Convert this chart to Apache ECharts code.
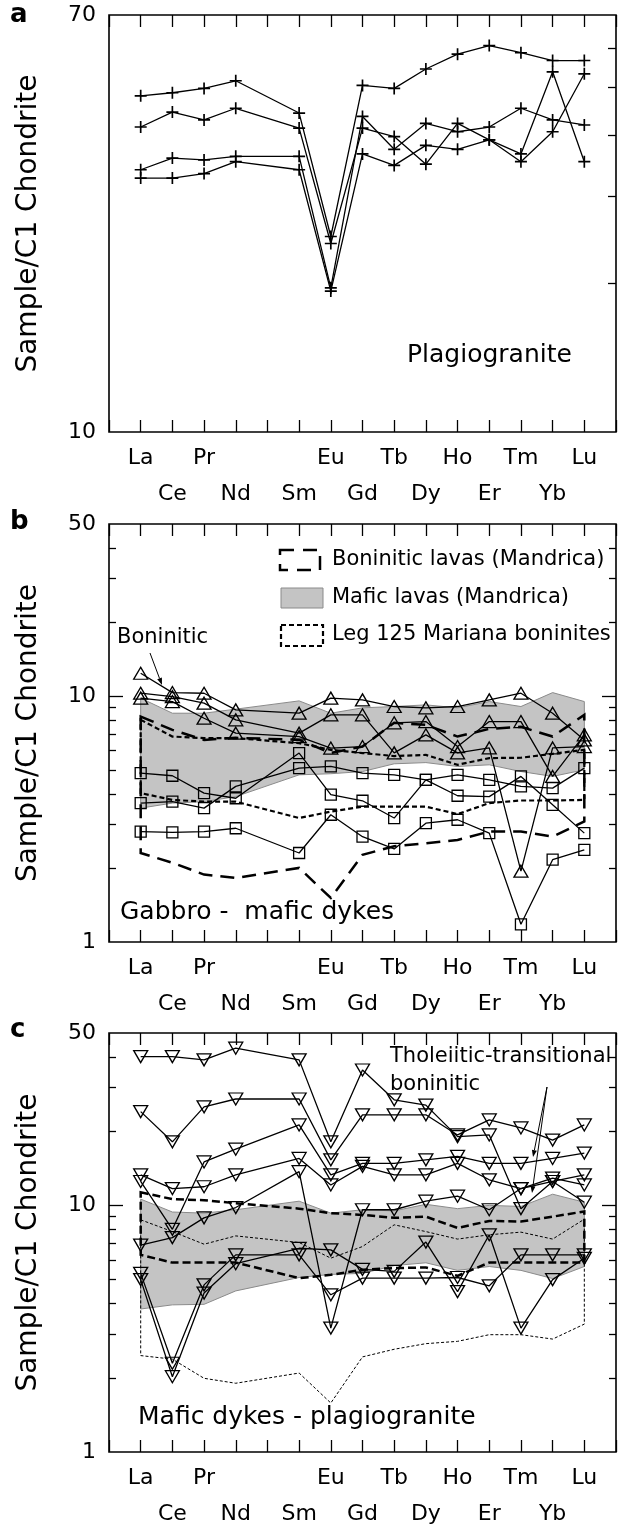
<!DOCTYPE html>
<html>
<head>
<meta charset="utf-8">
<title>REE patterns</title>
<script src="https://cdn.jsdelivr.net/npm/echarts@6.0.0/dist/echarts.min.js"></script>
<style>
  html, body { margin: 0; padding: 0; background: #fff; }
  #chart { width: 618px; height: 1530px; }
</style>
</head>
<body>
<div id="chart"></div>
<script>
// REE order; Pm has no data but keeps its tick
const ree = ['La', 'Ce', 'Pr', 'Nd', 'Pm', 'Sm', 'Eu', 'Gd', 'Tb', 'Dy', 'Ho', 'Er', 'Tm', 'Yb', 'Lu'];
const reeLabels = ['La', 'Ce', 'Pr', 'Nd', '', 'Sm', 'Eu', 'Gd', 'Tb', 'Dy', 'Ho', 'Er', 'Tm', 'Yb', 'Lu'];

// y ticks / labels
const ticksA = [20, 30, 40, 50, 60];
const labelsA = [10, 70];
const ticksBC = [2, 3, 4, 5, 6, 7, 8, 9, 20, 30, 40];
const majorBC = [10];
const labelsBC = [1, 10, 50];

// a - plagiogranite
const plagA1 = [48.0, 48.7, 49.7, 51.5, null, 44.3, 24.9, 50.4, 49.7, 54.4, 58.3, 60.7, 58.7, 56.6, 56.6];
const plagA2 = [41.5, 44.5, 42.9, 45.3, null, 41.3, 24.1, 41.3, 39.7, 34.9, 42.2, 39.1, 36.6, 53.7, 35.3];
const plagA3 = [34.0, 35.9, 35.6, 36.2, null, 36.2, 19.6, 43.6, 37.4, 42.2, 40.6, 41.5, 45.3, 42.9, 41.9];
const plagA4 = [32.7, 32.7, 33.4, 35.3, null, 34.0, 19.3, 36.6, 34.7, 38.1, 37.4, 39.1, 35.3, 40.6, 53.2];

// b - gabbro / mafic dykes
const mafLavUpB = [9.80, 8.51, 8.51, 8.84, null, 9.55, 8.51, 8.95, 9.06, 9.20, 8.95, 9.49, 9.06, 10.32, 9.49];
const mafLavLoB = [3.50, 3.67, 3.72, 3.90, null, 4.78, 4.83, 4.93, 5.30, 5.36, 5.17, 5.25, 4.93, 4.71, 5.01];
const bonLavUpB = [8.25, 7.28, 6.63, 6.76, null, 6.63, 5.87, 6.23, 7.78, 7.63, 6.84, 7.35, 7.49, 6.84, 8.38];
const bonLavLoB = [2.30, 2.10, 1.88, 1.82, null, 2.00, 1.51, 2.26, 2.45, 2.52, 2.60, 2.81, 2.81, 2.68, 3.09];
const legUpB = [8.00, 6.84, 6.74, 6.74, null, 6.43, 6.04, 5.86, 5.70, 5.76, 5.25, 5.59, 5.61, 5.82, 6.04];
const legLoB = [4.03, 3.78, 3.72, 3.72, null, 3.19, 3.39, 3.55, 3.55, 3.55, 3.31, 3.67, 3.76, 3.76, 3.78];
const triB1 = [12.37, 10.32, 10.26, 8.78, null, 8.51, 9.80, 9.64, 9.06, 8.95, 9.06, 9.64, 10.26, 8.51, 6.63];
const triB2 = [10.26, 9.94, 9.35, 8.00, null, 7.06, 8.38, 8.38, 5.87, 6.95, 5.87, 6.15, 1.94, 6.15, 6.23];
const triB3 = [9.80, 9.49, 8.12, 7.06, null, 6.84, 6.14, 6.23, 7.78, 7.87, 6.23, 7.87, 7.87, 4.71, 6.95];
const sqB1 = [4.86, 4.74, 4.03, 3.84, null, 5.86, 3.97, 3.75, 3.19, 4.56, 3.93, 3.90, 4.71, 3.61, 2.77];
const sqB2 = [3.67, 3.72, 3.50, 4.29, null, 5.09, 5.17, 4.86, 4.78, 4.56, 4.78, 4.56, 4.29, 4.22, 5.09];
const sqB3 = [2.81, 2.79, 2.81, 2.90, null, 2.30, 3.29, 2.68, 2.39, 3.04, 3.14, 2.77, 1.18, 2.16, 2.37];

// c - mafic dykes / plagiogranite
const mafLavUpC = [10.6, 9.4, 9.3, 9.6, null, 10.4, 9.3, 9.6, 9.5, 10.1, 9.7, 10.0, 9.9, 11.1, 10.3];
const mafLavLoC = [3.80, 3.95, 3.97, 4.5, null, 5.1, 5.25, 5.3, 5.7, 5.85, 5.45, 5.65, 5.45, 5.05, 5.65];
const legUpC = [11.3, 10.6, 10.5, 10.2, null, 9.7, 9.3, 9.15, 8.9, 9.0, 8.1, 8.65, 8.6, 9.0, 9.45];
const legLoC = [6.30, 5.86, 5.86, 5.86, null, 5.07, 5.23, 5.48, 5.57, 5.6, 5.18, 5.86, 5.86, 5.86, 5.86];
const bonLavUpC = [8.74, 7.83, 6.96, 7.52, null, 7.07, 6.11, 6.81, 8.34, 7.83, 7.30, 7.60, 7.79, 7.30, 8.79];
const bonLavLoC = [2.46, 2.38, 1.99, 1.90, null, 2.09, 1.58, 2.43, 2.61, 2.75, 2.81, 2.99, 2.99, 2.87, 3.30];
const dykeC1 = [40.1, 40.1, 38.9, 43.4, null, 38.9, 18.1, 35.4, 26.8, 25.5, 19.0, 19.3, 9.7, 12.5, 10.3];
const dykeC2 = [24.0, 18.1, 25.1, 27.0, null, 27.0, 15.3, 23.3, 23.3, 23.3, 19.3, 22.2, 20.6, 18.4, 21.2];
const dykeC3 = [13.3, 11.7, 11.9, 13.3, null, 15.5, 12.1, 14.4, 13.3, 13.3, 14.8, 12.7, 11.7, 12.9, 12.1];
const dykeC4 = [12.5, 8.0, 15.0, 16.9, null, 21.2, 13.3, 14.8, 14.8, 15.3, 15.8, 14.8, 14.8, 15.5, 16.3];
const dykeC5 = [6.9, 7.4, 8.9, 9.8, null, 13.7, 3.18, 9.6, 9.6, 10.4, 10.9, 9.6, 11.7, 12.5, 13.3];
const dykeC6 = [5.3, 2.29, 4.76, 6.3, null, 6.3, 4.34, 5.07, 5.07, 5.07, 5.1, 4.72, 6.3, 6.3, 6.3];
const dykeC7 = [5.0, 2.02, 4.41, 5.8, null, 6.7, 6.6, 5.5, 5.4, 7.1, 4.47, 7.6, 3.18, 5.0, 6.1];

const FONT = 'DejaVu Sans';
// one empty slot each side so La / Lu sit one step inside the frame
const cats = [''].concat(reeLabels, ['']);
const pad = a => [null].concat(a, [null]);

const gridTops = [15, 524, 1033];
const gridHeights = [417, 418, 419];
const grids = gridTops.map((t, i) => ({
  left: 109, width: 507, top: t, height: gridHeights[i],
  show: true, borderColor: '#000', borderWidth: 1.6,
  outerBoundsMode: 'none'
}));

const xAxes = [];
[0, 1, 2].forEach(g => {
  xAxes.push({
    gridIndex: g, type: 'category', data: cats, boundaryGap: false,
    axisLine: { show: false },
    axisTick: { inside: true, length: 12, interval: 0, lineStyle: { color: '#000', width: 1.3 } },
    axisLabel: {
      interval: 0, margin: 8, fontSize: 22, lineHeight: 36, color: '#000', fontFamily: FONT,
      formatter: (v, i) => (i % 2 === 0 && v) ? '\n' + v : v
    },
    splitLine: { show: false }
  });
  xAxes.push({
    gridIndex: g, type: 'category', data: cats, boundaryGap: false, position: 'top',
    axisLine: { show: false },
    axisTick: { inside: true, length: 12, interval: 0, lineStyle: { color: '#000', width: 1.3 } },
    axisLabel: { show: false },
    splitLine: { show: false }
  });
});

function yLog(g, min, max, pos, tickVals, tickLen, labelVals) {
  return {
    gridIndex: g, type: 'log', logBase: 10, min: min, max: max, position: pos,
    axisLine: { show: false },
    axisTick: tickVals ? { show: true, inside: true, length: tickLen, customValues: tickVals,
      lineStyle: { color: '#000', width: 1.3 } } : { show: false },
    axisLabel: labelVals ? { show: true, customValues: labelVals, margin: 13, fontSize: 22,
      color: '#000', fontFamily: FONT } : { show: false },
    splitLine: { show: false },
    minorTick: { show: false }
  };
}
const yTitle = {
  name: 'Sample/C1 Chondrite', nameLocation: 'middle', nameGap: 66,
  nameTextStyle: { fontSize: 28, color: '#000', fontFamily: FONT }
};

const yAxes = [
  Object.assign(yLog(0, 10, 70, 'left', null, 0, labelsA), yTitle),   // 0
  yLog(0, 10, 70, 'right', ticksA, 8, null),                          // 1
  Object.assign(yLog(1, 1, 50, 'left', ticksBC, 7, labelsBC), yTitle),// 2
  yLog(1, 1, 50, 'left', majorBC, 14, null),                          // 3
  yLog(1, 1, 50, 'right', ticksBC, 7, null),                          // 4
  yLog(1, 1, 50, 'right', majorBC, 14, null),                         // 5
  Object.assign(yLog(2, 1, 50, 'left', ticksBC, 7, labelsBC), yTitle),// 6
  yLog(2, 1, 50, 'left', majorBC, 14, null),                          // 7
  yLog(2, 1, 50, 'right', ticksBC, 7, null),                          // 8
  yLog(2, 1, 50, 'right', majorBC, 14, null)                          // 9
];
const yMain = [0, 2, 6];

function sample(g, data, symbol, size, rotate) {
  return {
    type: 'line', xAxisIndex: g * 2, yAxisIndex: yMain[g], data: pad(data),
    connectNulls: true, symbol: symbol, symbolSize: size, symbolRotate: rotate || 0,
    showAllSymbol: true, silent: true, z: 5,
    lineStyle: { color: '#000', width: 1.3 },
    itemStyle: symbol.indexOf('path://') === 0
      ? { color: '#000' }
      : { color: 'rgba(255,255,255,0)', borderColor: '#000', borderWidth: 1.3 },
    emphasis: { disabled: true }
  };
}

// closed envelope (upper left->right, lower right->left)
function envelope(g, upper, lower, style, z) {
  return {
    type: 'custom', xAxisIndex: g * 2, yAxisIndex: yMain[g], data: [[1, 5]],
    silent: true, z: z,
    renderItem: (params, api) => {
      const pts = [];
      upper.forEach((v, i) => { if (v != null) pts.push(api.coord([i + 1, v])); });
      for (let i = lower.length - 1; i >= 0; i--) {
        if (lower[i] != null) pts.push(api.coord([i + 1, lower[i]]));
      }
      return { type: 'polygon', shape: { points: pts }, style: style };
    }
  };
}

const plusSym = 'path://M4.3,0h1.4v10h-1.4zM0,4.3h10v1.4h-10z';
const bandStyle = { fill: '#c4c4c4', stroke: '#8a8a8a', lineWidth: 1 };

const series = [
  sample(0, plagA1, plusSym, 12),
  sample(0, plagA2, plusSym, 12),
  sample(0, plagA3, plusSym, 12),
  sample(0, plagA4, plusSym, 12),

  envelope(1, mafLavUpB, mafLavLoB, bandStyle, 1),
  envelope(1, bonLavUpB, bonLavLoB, { fill: 'none', stroke: '#000', lineWidth: 2.5, lineDash: [14, 8] }, 3),
  envelope(1, legUpB, legLoB, { fill: 'none', stroke: '#000', lineWidth: 2.2, lineDash: [5, 3] }, 3),
  sample(1, triB1, 'triangle', [14, 12]),
  sample(1, triB2, 'triangle', [14, 12]),
  sample(1, triB3, 'triangle', [14, 12]),
  sample(1, sqB1, 'rect', 11),
  sample(1, sqB2, 'rect', 11),
  sample(1, sqB3, 'rect', 11),

  envelope(2, mafLavUpC, mafLavLoC, bandStyle, 1),
  envelope(2, bonLavUpC, bonLavLoC, { fill: 'none', stroke: '#000', lineWidth: 1, lineDash: [3, 2] }, 3),
  envelope(2, legUpC, legLoC, { fill: 'none', stroke: '#000', lineWidth: 2.5, lineDash: [8, 4] }, 3),
  sample(2, dykeC1, 'triangle', [14, 12], 180),
  sample(2, dykeC2, 'triangle', [14, 12], 180),
  sample(2, dykeC3, 'triangle', [14, 12], 180),
  sample(2, dykeC4, 'triangle', [14, 12], 180),
  sample(2, dykeC5, 'triangle', [14, 12], 180),
  sample(2, dykeC6, 'triangle', [14, 12], 180),
  sample(2, dykeC7, 'triangle', [14, 12], 180)
];

function txt(x, y, s, size, bold) {
  return { type: 'text', x: x, y: y, z: 10, style: { text: s, fontSize: size, fontFamily: FONT,
    fontWeight: bold ? 'bold' : 'normal', fill: '#000', verticalAlign: 'middle' } };
}
function arrow(x1, y1, x2, y2) {
  const dx = x2 - x1, dy = y2 - y1, len = Math.hypot(dx, dy);
  const ux = dx / len, uy = dy / len;
  const bx = x2 - ux * 7, by = y2 - uy * 7;
  return [
    { type: 'line', z: 10, shape: { x1: x1, y1: y1, x2: bx, y2: by }, style: { stroke: '#000', lineWidth: 1 } },
    { type: 'polygon', z: 10, shape: { points: [[x2, y2], [bx - uy * 2.5, by + ux * 2.5], [bx + uy * 2.5, by - ux * 2.5]] },
      style: { fill: '#000' } }
  ];
}

const graphic = [
  txt(10, 15, 'a', 26, true),
  txt(10, 522, 'b', 26, true),
  txt(10, 1030, 'c', 26, true),
  txt(407, 355, 'Plagiogranite', 25),
  txt(120, 912, 'Gabbro -  mafic dykes', 25),
  txt(138, 1417, 'Mafic dykes - plagiogranite', 25),
  txt(117, 638, 'Boninitic', 21),
  txt(390, 1057, 'Tholeiitic-transitional', 21),
  txt(390, 1085, 'boninitic', 21),
  // legend of panel b
  { type: 'rect', z: 10, shape: { x: 280, y: 550, width: 40, height: 20 },
    style: { fill: 'none', stroke: '#000', lineWidth: 2.5, lineDash: [14, 9] } },
  { type: 'rect', z: 10, shape: { x: 281, y: 588, width: 42, height: 20 },
    style: { fill: '#c4c4c4', stroke: '#8a8a8a', lineWidth: 1 } },
  { type: 'rect', z: 10, shape: { x: 281, y: 625, width: 42, height: 21 },
    style: { fill: 'none', stroke: '#000', lineWidth: 2.2, lineDash: [5, 3] } },
  txt(332, 560, 'Boninitic lavas (Mandrica)', 21),
  txt(332, 598, 'Mafic lavas (Mandrica)', 21),
  txt(332, 635, 'Leg 125 Mariana boninites', 21)
].concat(arrow(150, 653, 162, 685), arrow(547, 1087, 533, 1157), arrow(547, 1087, 532, 1193));

const chart = echarts.init(document.getElementById('chart'));
chart.setOption({
  animation: false,
  textStyle: { fontFamily: FONT },
  grid: grids,
  xAxis: xAxes,
  yAxis: yAxes,
  series: series,
  graphic: graphic
});
</script>
</body>
</html>
